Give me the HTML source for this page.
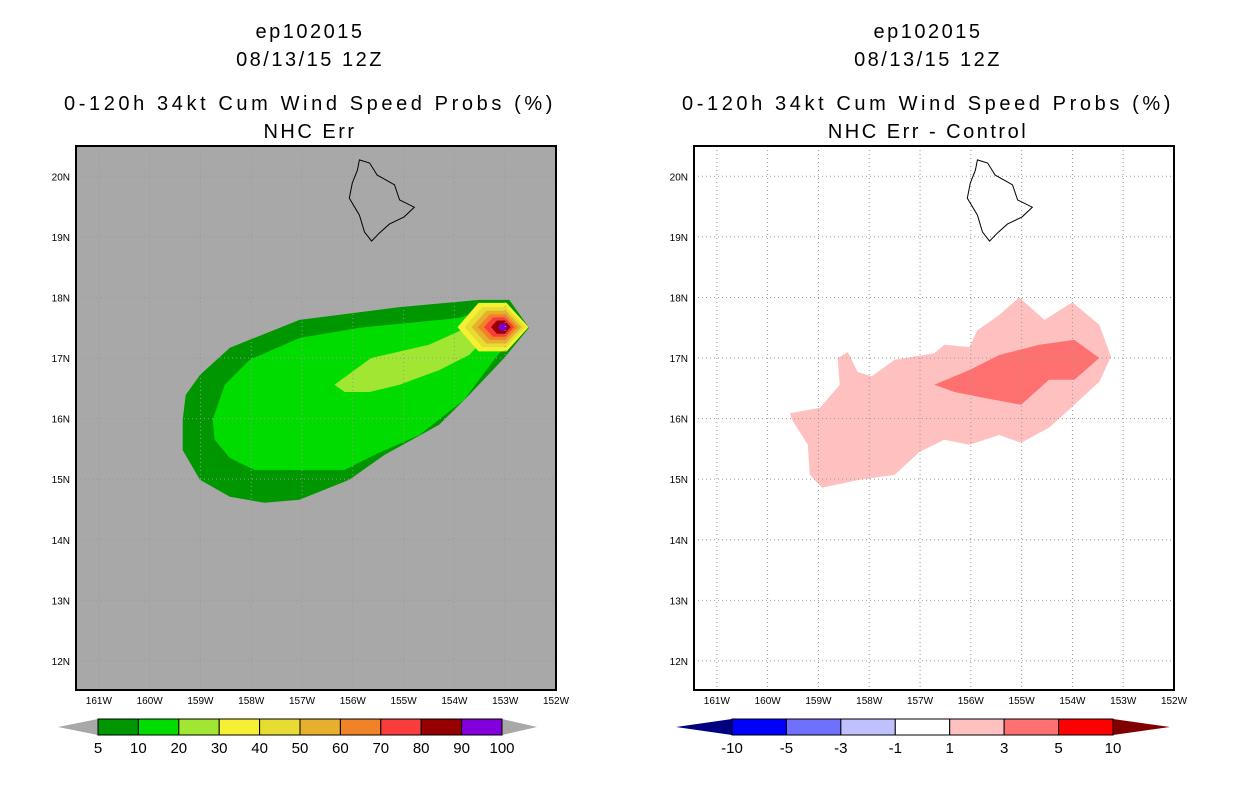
<!DOCTYPE html>
<html><head><meta charset="utf-8"><style>
body{margin:0;background:#fff;}
svg text{font-family:"Liberation Sans",sans-serif;}
.tt{letter-spacing:2.5px;}
.wide{letter-spacing:3.6px;}
</style></head><body>
<svg id="s" width="1236" height="800" xmlns="http://www.w3.org/2000/svg">
<g font-size="20" text-anchor="middle" fill="#000" class="tt">
<text x="310" y="38">ep102015</text>
<text x="310" y="66">08/13/15 12Z</text>
<text x="310" y="110" class="wide">0-120h 34kt Cum Wind Speed Probs (%)</text>
<text x="310" y="138">NHC Err</text>
</g>
<g font-size="20" text-anchor="middle" fill="#000" class="tt">
<text x="928" y="38">ep102015</text>
<text x="928" y="66">08/13/15 12Z</text>
<text x="928" y="110" class="wide">0-120h 34kt Cum Wind Speed Probs (%)</text>
<text x="928" y="138">NHC Err - Control</text>
</g>
</svg>
<script>
const lonTicks=[-161,-160,-159,-158,-157,-156,-155,-154,-153,-152];
const latTicks=[12,13,14,15,16,17,18,19,20];
const island=[[-155.87,20.27],[-155.67,20.22],[-155.52,20.02],[-155.18,19.86],[-155.08,19.61],[-154.79,19.49],[-154.99,19.33],[-155.28,19.21],[-155.48,19.06],[-155.63,18.93],[-155.77,19.08],[-155.87,19.36],[-156.07,19.64],[-156.01,19.89],[-155.91,20.10]];
const prob5=[[-159.35,15.98],[-159.29,16.39],[-159.01,16.72],[-158.42,17.17],[-157.05,17.63],[-155.08,17.84],[-153.51,17.96],[-152.92,17.96],[-152.53,17.50],[-153.02,17.00],[-153.71,16.39],[-154.30,15.90],[-155.38,15.40],[-156.07,14.99],[-157.05,14.66],[-157.74,14.61],[-158.42,14.71],[-159.01,14.99],[-159.35,15.48]];
const prob10=[[-158.76,15.98],[-158.52,16.56],[-158.03,16.97],[-157.05,17.33],[-155.87,17.50],[-153.91,17.66],[-153.02,17.91],[-152.69,17.50],[-153.22,16.97],[-153.81,16.31],[-154.69,15.73],[-155.58,15.40],[-156.17,15.15],[-157.05,15.15],[-157.93,15.15],[-158.42,15.35],[-158.72,15.65]];
const prob20=[[-156.36,16.56],[-155.64,17.00],[-154.50,17.22],[-153.87,17.46],[-153.42,17.30],[-153.71,17.05],[-154.30,16.80],[-155.08,16.56],[-155.67,16.44],[-156.16,16.44]];
const peakCenter=[-153.02,17.51];
const peakLevels=[30,40,50,60,70,80,90];
const peakLeft=[0.92,0.78,0.64,0.52,0.40,0.26,0.12];
const peakRight=[0.48,0.41,0.34,0.27,0.20,0.13,0.06];
const peakHalfLat=[0.40,0.33,0.27,0.21,0.16,0.11,0.06];
const diff1=[[-159.56,16.09],[-158.97,16.18],[-158.58,16.56],[-158.62,17.00],[-158.42,17.10],[-158.23,16.77],[-157.95,16.70],[-157.50,16.97],[-156.72,17.08],[-156.52,17.22],[-156.03,17.18],[-155.87,17.46],[-155.44,17.71],[-155.05,18.00],[-154.55,17.63],[-154.00,17.92],[-153.47,17.55],[-153.24,17.02],[-153.47,16.61],[-153.96,16.23],[-154.46,15.85],[-155.01,15.60],[-155.44,15.73],[-156.03,15.57],[-156.52,15.65],[-157.01,15.45],[-157.50,15.07],[-158.19,14.99],[-158.93,14.86],[-159.17,15.07],[-159.21,15.57],[-159.52,15.98]];
const diff3=[[-156.72,16.56],[-156.03,16.80],[-155.44,17.05],[-154.65,17.22],[-153.96,17.30],[-153.47,17.00],[-153.96,16.64],[-154.46,16.64],[-155.01,16.23],[-155.73,16.34],[-156.32,16.44]];
const probLabels=["5","10","20","30","40","50","60","70","80","90","100"];
const probColors=["#009600","#00dc00","#a0e632","#f5f032","#e6dc32","#e6af2d","#f08228","#fa3c3c","#960000","#8200dc"];
const diffLabels=["-10","-5","-3","-1","1","3","5","10"];
const diffColors=["#0000ff","#7070ff","#c0c0ff","#ffffff","#ffc0c0","#ff7070","#ff0000"];
const peakColors={30:"#f5f032",40:"#e6dc32",50:"#e6af2d",60:"#f08228",70:"#fa3c3c",80:"#960000",90:"#8200dc"};

const NS="http://www.w3.org/2000/svg";
const svg=document.getElementById('s');
function mk(tag,attrs,parent){const e=document.createElementNS(NS,tag);for(const k in attrs)e.setAttribute(k,attrs[k]);(parent||svg).appendChild(e);return e;}
const LON0=-161.45,LON1=-152.0,LAT0=11.52,LAT1=20.5;
function panel(x0,name){
  const W=480,H=544,Y0=146;
  const xs=lon=>x0+(lon-LON0)/(LON1-LON0)*W;
  const ys=lat=>Y0+(LAT1-lat)/(LAT1-LAT0)*H;
  const g=mk('g',{});
  
  
  return {g,xs,ys,W,H,Y0,x0};
}
function poly(p,pts,fill,name,stroke){
  const e=mk('polygon',{points:pts.map(q=>p.xs(q[0]).toFixed(1)+','+p.ys(q[1]).toFixed(1)).join(' '),fill:fill,stroke:stroke||'none'},p.g);
  
  
  return e;
}
function frame(p,bg,prefix){
  const r=mk('rect',{x:p.x0,y:p.Y0,width:p.W,height:p.H,fill:bg},p.g);
  
  
}
function axes(p,gridColor,prefix){
  lonTicks.forEach(l=>{
    const x=p.xs(l);
    const gl=mk('line',{x1:x,y1:p.Y0,x2:x,y2:p.Y0+p.H,stroke:gridColor,'stroke-dasharray':'1,3','stroke-width':1},p.g);
    
    
    const t=mk('text',{x:x,y:p.Y0+p.H+14,'font-size':10,'text-anchor':'middle'},p.g);
    t.textContent=(-l)+'W';
    
    
  });
  latTicks.forEach(l=>{
    const y=p.ys(l);
    const gl=mk('line',{x1:p.x0,y1:y,x2:p.x0+p.W,y2:y,stroke:gridColor,'stroke-dasharray':'1,3','stroke-width':1},p.g);
    
    
    const t=mk('text',{x:p.x0-6,y:y+4,'font-size':10,'text-anchor':'end'},p.g);
    t.textContent=l+'N';
    
    
  });
  poly(p,island,'none',prefix+'-hawaii-outline','#000');
  const b=mk('rect',{x:p.x0,y:p.Y0,width:p.W,height:p.H,fill:'none',stroke:'#000','stroke-width':2},p.g);
  
  
}
const L=panel(76,'left');
frame(L,'#a8a8a8','left');
poly(L,prob5,'#009600','prob-5-contour');
poly(L,prob10,'#00dc00','prob-10-contour');
poly(L,prob20,'#a0e632','prob-20-contour');
peakLevels.forEach((lv,i)=>{
  const c=peakCenter;
  const pts=[[c[0]-peakLeft[i],c[1]],[c[0]-peakLeft[i]*0.55,c[1]+peakHalfLat[i]],[c[0]+peakRight[i]*0.1,c[1]+peakHalfLat[i]],[c[0]+peakRight[i],c[1]],[c[0]+peakRight[i]*0.1,c[1]-peakHalfLat[i]],[c[0]-peakLeft[i]*0.55,c[1]-peakHalfLat[i]]];
  poly(L,pts,peakColors[lv],'prob-'+lv+'-contour');
});
axes(L,'#999','left');
const R=panel(694,'right');
frame(R,'#ffffff','right');
poly(R,diff1,'#ffc0c0','diff-1-3-contour');
poly(R,diff3,'#ff7070','diff-3-5-contour');
axes(R,'#999','right');

function colorbar(x0,x1,aL,aR,y,colors,labels,leftArrow,rightArrow,name){
  const g=mk('g',{});
  
  
  const h=16,w=(x1-x0)/colors.length;
  const la=mk('polygon',{points:`${aL},${y+h/2} ${x0},${y} ${x0},${y+h}`,fill:leftArrow},g);
  
  
  const ra=mk('polygon',{points:`${aR},${y+h/2} ${x1},${y} ${x1},${y+h}`,fill:rightArrow},g);
  
  
  colors.forEach((c,i)=>{
    const r=mk('rect',{x:x0+i*w,y:y,width:w,height:h,fill:c,stroke:'#000','stroke-width':1},g);
    
    
  });
  labels.forEach((l,i)=>{
    const t=mk('text',{x:x0+i*w,y:y+h+18,'font-size':15,'text-anchor':'middle'},g);
    t.textContent=l;
    
    
  });
}
colorbar(98,502,58,537,719,probColors,probLabels,'#a8a8a8','#a8a8a8','left-colorbar');
colorbar(732,1113,676,1170,719,diffColors,diffLabels,'#000080','#800000','right-colorbar');
</script>
</body></html>
